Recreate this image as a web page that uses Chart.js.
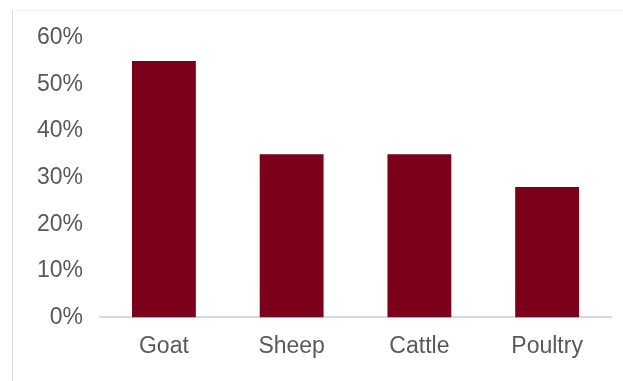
<!DOCTYPE html>
<html>
<head>
<meta charset="utf-8">
<script src="https://cdn.jsdelivr.net/npm/chart.js@4"></script>
<style>
  html, body { margin: 0; padding: 0; background: #fff; overflow: hidden; }
  #frame {
    position: absolute; left: 12px; top: 10px;
    width: 611px; height: 371px;
    border-left: 1px solid #d9d9d9;
    border-top: 1px solid #f2f2f2;
  }
  #wrap { position: absolute; left: 0; top: -4px; width: 611px; height: 375px; }
</style>
</head>
<body>
<div id="frame"><div id="wrap"><canvas id="chart1"></canvas></div></div>
<script>
// livestock shares
var categories = ['Goat', 'Sheep', 'Cattle', 'Poultry'];
var shares = [55, 35, 35, 28];
var yTicks = [0, 10, 20, 30, 40, 50, 60];

var barColor = '#7b0019';

var chart1 = new Chart(document.getElementById('chart1'), {
  type: 'bar',
  data: {
    labels: categories,
    datasets: [{
      data: shares,
      backgroundColor: barColor,
      borderWidth: 0,
      barPercentage: 1,
      categoryPercentage: 0.5
    }]
  },
  options: {
    responsive: true,
    maintainAspectRatio: false,
    animation: false,
    layout: { padding: { left: 7, right: 13, top: 2, bottom: 7 } },
    plugins: { legend: { display: false }, tooltip: { enabled: false } },
    scales: {
      x: {
        grid: { display: false, drawTicks: false },
        border: { display: true, color: '#d9d9d9', width: 2 },
        ticks: {
          color: '#595959',
          padding: 15,
          font: { family: '"Liberation Sans", Arial, sans-serif', size: 23 }
        }
      },
      y: {
        min: 0,
        max: 60,
        afterBuildTicks: function (axis) {
          axis.ticks = yTicks.map(function (v) { return { value: v }; });
        },
        grid: { display: false, drawTicks: false },
        border: { display: false },
        ticks: {
          color: '#595959',
          padding: 17,
          font: { family: '"Liberation Sans", Arial, sans-serif', size: 23 },
          callback: function (v) { return v + '%'; }
        }
      }
    }
  }
});
</script>
</body>
</html>
